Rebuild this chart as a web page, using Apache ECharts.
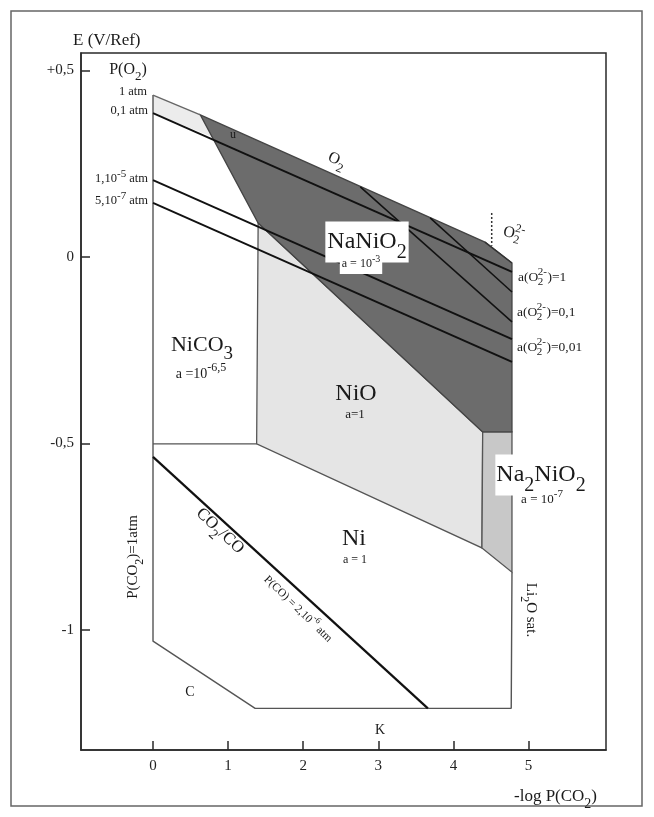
<!DOCTYPE html>
<html>
<head>
<meta charset="utf-8">
<script src="https://cdn.jsdelivr.net/npm/echarts@6/dist/echarts.min.js"></script>
<style>
  html, body { margin: 0; padding: 0; background: #fff; }
  #chart { width: 654px; height: 817px; }
</style>
</head>
<body>
<div id="chart"></div>
<script>
// Potential / acidity stability diagram of nickel in molten carbonate.
// x: -log P(CO2), y: E (V/Ref)

const xTicks = [0, 1, 2, 3, 4, 5];
const yTicks = [-1, -0.5, 0, 0.5];
const yTickLabels = ['-1', '-0,5', '0', '+0,5'];

// Stability fields (polygon vertices, [-log P(CO2), E])
const fieldNaNiO2 = [[0.63, 0.381], [4.42, 0.040], [4.78, -0.016], [4.78, -0.469], [4.39, -0.469], [1.40, 0.091]];
const fieldNiO = [[1.40, 0.091], [4.39, -0.469], [4.38, -0.780], [1.38, -0.501]];
const fieldNa2NiO2 = [[4.39, -0.469], [4.78, -0.469], [4.78, -0.845], [4.38, -0.780]];
const fieldO2Top = [[0, 0.434], [0.63, 0.381], [0.79, 0.322], [0, 0.386]];

// Limits of the electrolyte domain
const domainOutline = [[0, 0.434], [0, -1.03], [1.36, -1.21], [4.77, -1.21], [4.78, -0.845]];
const niCO3Floor = [[0, -0.501], [1.38, -0.501]];

// Oxygen partial pressure lines
const pO2_1atm = [[0, 0.434], [0.63, 0.381]];
const pO2_01atm = [[0, 0.386], [4.78, -0.040]];
const pO2_1e5atm = [[0, 0.206], [4.78, -0.220]];
const pO2_5e7atm = [[0, 0.145], [4.78, -0.281]];

// Peroxide activity lines
const aPerox_1 = [[4.42, 0.040], [4.78, -0.016]];
const aPerox_01 = [[3.69, 0.105], [4.78, -0.094]];
const aPerox_001 = [[2.76, 0.188], [4.78, -0.174]];

// O2 / O2(2-) separation
const o2PeroxLimit = [[4.51, 0.118], [4.51, 0.030]];

// CO2/CO equilibrium, P(CO) = 2.10^-6 atm
const co2CoLine = [[0, -0.536], [3.66, -1.21]];

const SERIF = '"Liberation Serif", "DejaVu Serif", "Times New Roman", serif';
const INK = '#1a1a1a';

function polygon(pts, fill, stroke, lw, z) {
  return {
    type: 'custom',
    coordinateSystem: 'cartesian2d',
    data: [[pts[0][0], pts[0][1]]],
    silent: true,
    clip: false,
    z: z,
    renderItem: function (params, api) {
      return {
        type: 'polygon',
        shape: { points: pts.map(function (p) { return api.coord(p); }) },
        style: { fill: fill, stroke: stroke, lineWidth: lw }
      };
    }
  };
}

function line(pts, color, width, z, dash) {
  return {
    type: 'line',
    data: pts,
    symbol: 'none',
    silent: true,
    clip: false,
    z: z,
    lineStyle: { color: color, width: width, type: dash || 'solid', cap: 'butt' }
  };
}

// Tiny markup: _{..} subscript, ^{..} superscript
function markup(s) {
  let out = '';
  const re = /([_^])\{([^}]*)\}/g;
  let last = 0, m;
  while ((m = re.exec(s)) !== null) {
    if (m.index > last) out += '{n|' + s.slice(last, m.index) + '}';
    out += (m[1] === '_' ? '{sb|' : '{sp|') + m[2] + '}';
    last = re.lastIndex;
  }
  if (last < s.length) out += '{n|' + s.slice(last) + '}';
  return out;
}

function richFor(size, subRatio, color) {
  const LH = Math.round(size * 1.7);
  const dSub = size * 0.3;
  const dSup = size * 0.38;
  const sub = Math.round(size * (subRatio || 0.8));
  return {
    n: { fontSize: size, fontFamily: SERIF, lineHeight: LH, fill: color, color: color },
    sb: { fontSize: sub, fontFamily: SERIF, lineHeight: LH - 2 * dSub, verticalAlign: 'bottom', fill: color, color: color },
    sp: { fontSize: sub, fontFamily: SERIF, lineHeight: LH - 2 * dSup, verticalAlign: 'top', fill: color, color: color }
  };
}

function label(x, y, text, size, opt) {
  opt = opt || {};
  const color = opt.color || INK;
  const st = {
    text: markup(text),
    rich: richFor(size, opt.sub, color),
    align: opt.align || 'center',
    verticalAlign: 'middle',
    fill: color
  };
  if (opt.bg) {
    st.backgroundColor = opt.bg;
    st.padding = opt.pad || [0, 2, 0, 2];
  }
  return {
    type: 'text',
    x: x, y: y,
    rotation: (opt.rot || 0) * Math.PI / 180,
    z: 100,
    silent: true,
    style: st
  };
}

// Label with a subscript and a superscript stacked on the same symbol (e.g. O2 2-)
const measureCtx = document.createElement('canvas').getContext('2d');
function textWidth(str, size) {
  measureCtx.font = size + 'px ' + SERIF;
  return measureCtx.measureText(str).width;
}
function stackedLabel(x, y, pre, sub, sup, post, size, opt) {
  opt = opt || {};
  const s = Math.round(size * 0.78);
  const wPre = textWidth(pre, size);
  const wScr = Math.max(textWidth(sub, s), textWidth(sup, s));
  const wPost = textWidth(post, size);
  const total = wPre + wScr + wPost;
  const x0 = opt.align === 'left' ? 0 : (opt.align === 'right' ? -total : -total / 2);
  function piece(px, py, text, fs) {
    return {
      type: 'text', x: px, y: py, silent: true,
      style: { text: text, fontSize: fs, fontFamily: SERIF, fill: INK, align: 'left', verticalAlign: 'middle' }
    };
  }
  const children = [
    piece(x0, 0, pre, size),
    piece(x0 + wPre - 0.5, size * 0.36, sub, s),
    piece(x0 + wPre - 0.5, -size * 0.36, sup, s)
  ];
  if (post) children.push(piece(x0 + wPre + wScr, 0, post, size));
  return {
    type: 'group', x: x, y: y, z: 100, silent: true,
    rotation: (opt.rot || 0) * Math.PI / 180,
    children: children
  };
}

const chart = echarts.init(document.getElementById('chart'), null, { renderer: 'canvas' });

const gridLeft = 81, gridTop = 53, gridRight = 48, gridBottom = 67;
const pxPerX = 75.1, pxPerE = 373;
const xZeroPx = 153, eZeroPx = 257;

const option = {
  animation: false,
  backgroundColor: '#fff',
  grid: {
    left: gridLeft, top: gridTop, right: gridRight, bottom: gridBottom,
    show: true, borderColor: '#2a2a2a', borderWidth: 1.5, backgroundColor: 'transparent'
  },
  xAxis: {
    type: 'value',
    min: -(xZeroPx - gridLeft) / pxPerX,
    max: (654 - gridRight - xZeroPx) / pxPerX,
    splitLine: { show: false },
    axisLine: { show: true, onZero: false, lineStyle: { color: '#2a2a2a', width: 1.5 } },
    axisTick: { show: true, inside: true, length: 9, customValues: xTicks, lineStyle: { color: '#2a2a2a', width: 1.5 } },
    axisLabel: {
      customValues: xTicks, margin: 9,
      fontFamily: SERIF, fontSize: 15, color: '#222',
      formatter: function (v) { return String(v); }
    }
  },
  yAxis: {
    type: 'value',
    min: -(817 - gridBottom - eZeroPx) / pxPerE,
    max: (eZeroPx - gridTop) / pxPerE,
    splitLine: { show: false },
    axisLine: { show: true, onZero: false, lineStyle: { color: '#2a2a2a', width: 1.5 } },
    axisTick: { show: true, inside: true, length: 9, customValues: yTicks, lineStyle: { color: '#2a2a2a', width: 1.5 } },
    axisLabel: {
      customValues: yTicks, margin: 7,
      fontFamily: SERIF, fontSize: 15, color: '#222',
      formatter: function (v) {
        const i = yTicks.indexOf(v);
        return i >= 0 ? yTickLabels[i] : '';
      }
    }
  },
  series: [
    polygon(fieldO2Top, '#ececec', 'none', 0, 2),
    polygon(fieldNiO, '#e5e5e5', '#555', 1.3, 3),
    polygon(fieldNa2NiO2, '#c8c8c8', '#555', 1.3, 3),
    polygon(fieldNaNiO2, '#6c6c6c', '#444', 1.3, 4),
    line(domainOutline, '#555', 1.4, 5),
    line(niCO3Floor, '#555', 1.4, 5),
    line(pO2_1atm, '#666', 1.4, 6),
    line(pO2_01atm, '#111', 1.9, 7),
    line(pO2_1e5atm, '#111', 1.9, 7),
    line(pO2_5e7atm, '#111', 1.9, 7),
    line(aPerox_1, '#333', 1.4, 7),
    line(aPerox_01, '#111', 1.5, 7),
    line(aPerox_001, '#111', 1.5, 7),
    line(o2PeroxLimit, '#333', 1.5, 7, [2, 2]),
    line(co2CoLine, '#111', 2.2, 7)
  ],
  graphic: [
    { type: 'rect', shape: { x: 11, y: 11, width: 631, height: 795 }, style: { fill: 'none', stroke: '#666', lineWidth: 1.5 }, silent: true, z: 0 },
    label(73, 41, 'E (V/Ref)', 17, { align: 'left' }),
    label(128, 70, 'P(O_{2})', 16),
    label(147, 92, '1 atm', 12.5, { align: 'right' }),
    label(148, 111, '0,1 atm', 12.5, { align: 'right' }),
    label(148, 179, '1,10^{-5} atm', 12.5, { align: 'right', sub: 0.85 }),
    label(148, 201, '5,10^{-7} atm', 12.5, { align: 'right', sub: 0.85 }),
    label(233, 135, 'u', 12),
    label(337, 160, 'O_{2}', 16, { rot: -24 }),
    stackedLabel(514, 234, 'O', '2', '2-', '', 16, { rot: -12 }),
    stackedLabel(518, 277, 'a(O', '2', '2-', ')=1', 13.5, { align: 'left' }),
    stackedLabel(517, 312, 'a(O', '2', '2-', ')=0,1', 13.5, { align: 'left' }),
    stackedLabel(517, 347, 'a(O', '2', '2-', ')=0,01', 13.5, { align: 'left' }),
    label(367, 242, 'NaNiO_{2}', 24, { bg: '#fff', pad: [0, 2, 0, 2], sub: 0.85 }),
    label(361, 264, 'a = 10^{-3}', 12, { bg: '#fff', pad: [0, 2, 0, 2], sub: 0.85 }),
    label(202, 345, 'NiCO_{3}', 22, { sub: 0.85 }),
    label(201, 374, 'a =10^{-6,5}', 14, { sub: 0.85 }),
    label(356, 394, 'NiO', 24),
    label(355, 415, 'a=1', 13),
    label(354, 539, 'Ni', 24),
    label(355, 560, 'a = 1', 12),
    label(541, 475, 'Na_{2}NiO_{2}', 24, { bg: '#fff', pad: [0, 1, 0, 1], sub: 0.85 }),
    label(542, 500, 'a = 10^{-7}', 13, { sub: 0.85 }),
    label(220, 531, 'CO_{2}/CO', 17, { rot: -43 }),
    label(298, 609, 'P(CO) = 2,10^{-6} atm', 11.5, { rot: -44 }),
    label(133, 557, 'P(CO_{2})=1atm', 15, { rot: 90 }),
    label(531, 610, 'Li_{2}O sat.', 15, { rot: -90 }),
    label(190, 692, 'C', 14),
    label(380, 730, 'K', 14),
    label(514, 797, '-log P(CO_{2})', 17, { align: 'left' })
  ]
};

chart.setOption(option);
</script>
</body>
</html>
